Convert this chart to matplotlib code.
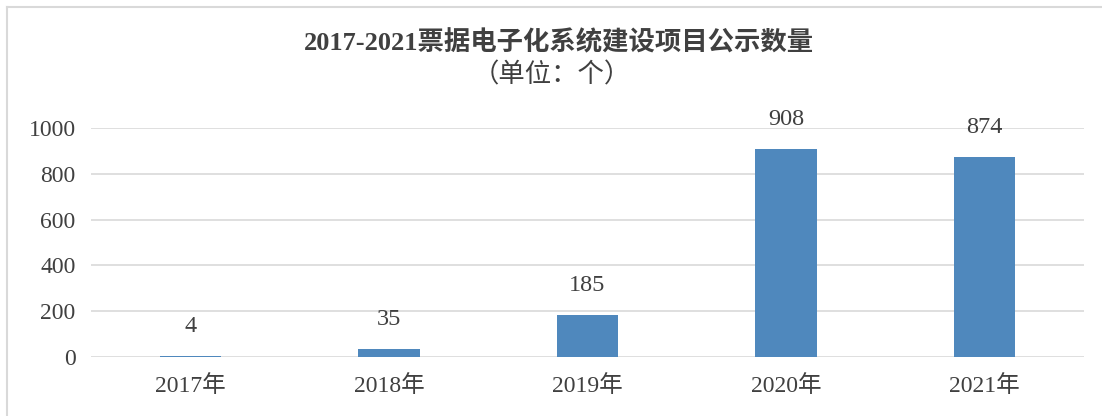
import matplotlib
matplotlib.use("Agg")
import matplotlib.pyplot as plt
from matplotlib.lines import Line2D

categories = ["2017年", "2018年", "2019年", "2020年", "2021年"]
values = [4, 35, 185, 908, 874]
yticks = [0, 200, 400, 600, 800, 1000]
title1 = "2017-2021票据电子化系统建设项目公示数量"
title2 = "（单位：个）"

fam = ["Liberation Serif", "Noto Sans CJK SC"]
plt.rcParams["font.family"] = fam
txt = "#404040"

W, H = 1102, 416
fig = plt.figure(figsize=(W / 100, H / 100), dpi=100)
ax = fig.add_axes([91 / W, 1 - 357 / H, (1084 - 91) / W, (357 - 128) / H])

x = list(range(len(categories)))
ax.bar(x, values, width=0.31, color="#4F88BD", zorder=3)
ax.set_xlim(-0.5, len(categories) - 0.5)
ax.set_ylim(0, 1000)
ax.set_yticks(yticks)
ax.set_yticklabels([str(v) for v in yticks])
ax.set_xticks(x)
ax.set_xticklabels(categories)
ax.grid(axis="y", color="#D9D9D9", linewidth=1.2, zorder=0)
ax.set_axisbelow(True)
for s in ax.spines.values():
    s.set_visible(False)
ax.tick_params(axis="both", length=0, colors=txt, labelsize=17)
ax.tick_params(axis="y", pad=11)
ax.tick_params(axis="x", pad=13)
ax.set_ylim(0, 1000)

for xi, v in zip(x, values):
    ax.annotate(str(v), (xi, v), xytext=(0, 21), textcoords="offset points",
                ha="center", va="center", fontsize=17.5, color=txt)

fig.text(559 / W, 1 - 43 / H, title1, ha="center", va="center",
         fontsize=19, fontweight="bold", color=txt)
fig.text(552 / W, 1 - 75 / H, title2, ha="center", va="center",
         fontsize=19, color=txt)

# chart frame (left and top edges visible)
fig.add_artist(Line2D([7 / W, 7 / W], [0, 1 - 7 / H], transform=fig.transFigure,
                      color="#D9D9D9", linewidth=1.5))
fig.add_artist(Line2D([7 / W, 1], [1 - 7 / H, 1 - 7 / H], transform=fig.transFigure,
                      color="#D9D9D9", linewidth=1.5))

fig.savefig("out.png", dpi=100, facecolor="white")
